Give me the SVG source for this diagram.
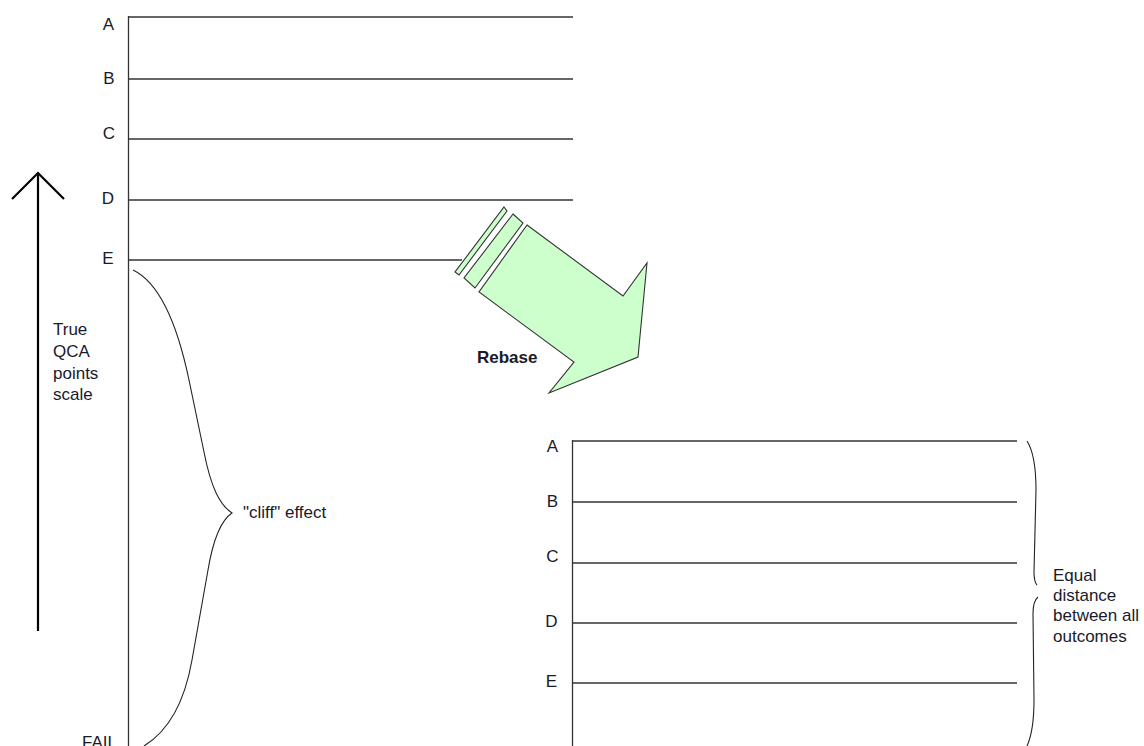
<svg xmlns="http://www.w3.org/2000/svg" width="1144" height="746" viewBox="0 0 1144 746">
<style>
.ln{stroke:#333;stroke-width:1.3;fill:none}
.br{stroke:#222;stroke-width:1.1;fill:none}
.t{font-family:"Liberation Sans",Arial,sans-serif;font-size:17px;fill:#1a1a2a}
.lb{text-anchor:middle}
.ar{fill:#ccffcc;stroke:#333;stroke-width:1.1;stroke-linejoin:miter}
</style>
<rect width="1144" height="746" fill="#fff"/>
<g id="scale-true">
<line class="ln" x1="128.5" y1="16" x2="128.5" y2="746"/>
<line class="ln" x1="128" y1="17" x2="573" y2="17"/>
<line class="ln" x1="128" y1="79" x2="573" y2="79"/>
<line class="ln" x1="128" y1="139" x2="573" y2="139"/>
<line class="ln" x1="128" y1="200" x2="573" y2="200"/>
<line class="ln" x1="128" y1="260" x2="462" y2="260"/>
<text class="t lb" x="108.5" y="29.5">A</text>
<text class="t lb" x="109" y="84">B</text>
<text class="t lb" x="109" y="139">C</text>
<text class="t lb" x="108" y="204">D</text>
<text class="t lb" x="108" y="264">E</text>
<text class="t" x="82" y="748">FAIL</text>
</g>
<g id="axis-arrow">
<line x1="38" y1="175" x2="38" y2="631" stroke="#000" stroke-width="2.2"/>
<polyline points="12,199 38,173 64,199" fill="none" stroke="#000" stroke-width="2.2"/>
<text class="t" x="53" y="335">True</text>
<text class="t" x="53" y="357">QCA</text>
<text class="t" x="53" y="379">points</text>
<text class="t" x="53" y="400">scale</text>
</g>
<g id="cliff-brace">
<path class="br" d="M133,270 C158,282 176,318 189,380 L204,452 C211,488 220,505 232,513 C220,521 213,540 208,570 L192,660 C185,700 170,730 144,746"/>
<text class="t" x="243" y="518">"cliff" effect</text>
</g>
<g id="rebase-arrow">
<polygon class="ar" points="504,207 507,211 459,275 455,272"/>
<polygon class="ar" points="513,214 523,223 475,288 464,278"/>
<polygon class="ar" points="527,225 623,296 647,263 638,357 549,393 574,362 479,292"/>
<text class="t" x="477" y="363" style="font-weight:bold">Rebase</text>
</g>
<g id="scale-equal">
<line class="ln" x1="572.5" y1="440" x2="572.5" y2="746"/>
<line class="ln" x1="572" y1="441" x2="1017" y2="441"/>
<line class="ln" x1="572" y1="502" x2="1017" y2="502"/>
<line class="ln" x1="572" y1="563" x2="1017" y2="563"/>
<line class="ln" x1="572" y1="623" x2="1017" y2="623"/>
<line class="ln" x1="572" y1="683" x2="1017" y2="683"/>
<text class="t lb" x="552.5" y="452">A</text>
<text class="t lb" x="552.5" y="507">B</text>
<text class="t lb" x="552.5" y="562">C</text>
<text class="t lb" x="551.5" y="627">D</text>
<text class="t lb" x="551.5" y="687">E</text>
</g>
<g id="equal-brace">
<path class="br" d="M1027,441 C1034,452 1036,468 1036,490 L1034,572 Q1034,582 1037,585"/>
<path class="br" d="M1038,597 Q1033,601 1033,614 L1034,700 C1034,720 1032,735 1027,746"/>
<text class="t" x="1053" y="581">Equal</text>
<text class="t" x="1053" y="601">distance</text>
<text class="t" x="1053" y="621">between all</text>
<text class="t" x="1053" y="642">outcomes</text>
</g>
</svg>
